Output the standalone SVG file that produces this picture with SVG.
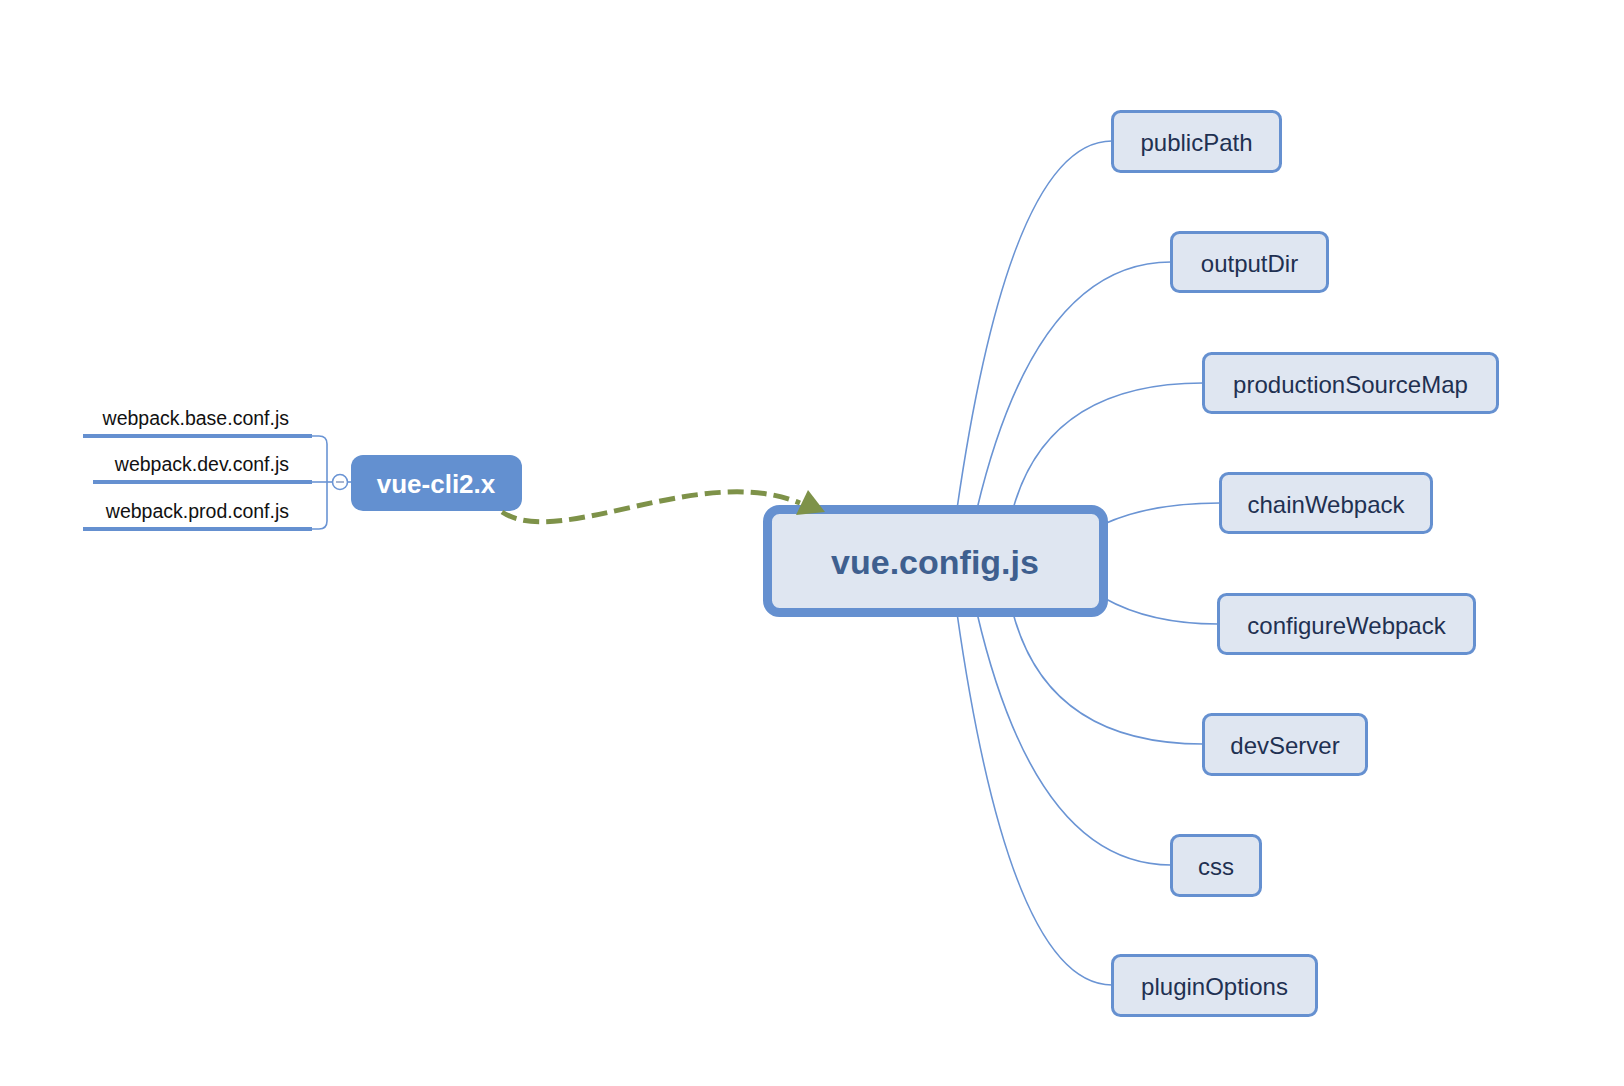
<svg xmlns="http://www.w3.org/2000/svg" width="1624" height="1086" viewBox="0 0 1624 1086">
  <style>
    .conn { fill: none; stroke: #6a94d4; stroke-width: 1.6; }
    .node rect { fill: #dfe6f1; stroke: #6590d0; stroke-width: 3; }
    .node text { font-family: "Liberation Sans", Arial, sans-serif; font-size: 24px; fill: #1f3152; text-anchor: middle; }
    .leaf text { font-family: "Liberation Sans", Arial, sans-serif; font-size: 19.5px; fill: #111111; text-anchor: end; }
    .underline { stroke: #6590d0; stroke-width: 4; }
    .rel { fill: none; stroke: #7e9249; stroke-width: 5; stroke-dasharray: 16 7; }
  </style>
  <rect x="0" y="0" width="1624" height="1086" fill="#ffffff"/>

  <g id="connectors">
    <path class="conn" d="M957,509 Q1010,141 1112,141"/>
    <path class="conn" d="M977,509 Q1036,262 1171,262"/>
    <path class="conn" d="M1013,509 Q1048,383 1203,383"/>
    <path class="conn" d="M1104,524 Q1150,503 1220,503"/>
    <path class="conn" d="M1104,598 Q1150,624 1218,624"/>
    <path class="conn" d="M1013,613 Q1048,744 1203,744"/>
    <path class="conn" d="M977,613 Q1036,865 1171,865"/>
    <path class="conn" d="M957,613 Q1010,985 1112,985"/>
    <path class="conn" d="M312,436 H319 Q327,436 327,444 V521 Q327,529 319,529 H312"/>
    <path class="conn" d="M312,482 H332.5"/>
    <path class="conn" d="M347.5,482 H352"/>
  </g>

  <g id="collapse">
    <circle cx="340" cy="482" r="7.5" fill="#ffffff" stroke="#6a94d4" stroke-width="1.6"/>
    <line x1="336" y1="482" x2="344" y2="482" stroke="#8a9cc0" stroke-width="1.5"/>
  </g>

  <g id="leaf-base" class="leaf">
    <line class="underline" x1="83" y1="436" x2="312" y2="436"/>
    <text x="289" y="425">webpack.base.conf.js</text>
  </g>
  <g id="leaf-dev" class="leaf">
    <line class="underline" x1="93" y1="482" x2="312" y2="482"/>
    <text x="289" y="471">webpack.dev.conf.js</text>
  </g>
  <g id="leaf-prod" class="leaf">
    <line class="underline" x1="83" y1="529" x2="312" y2="529"/>
    <text x="289" y="518">webpack.prod.conf.js</text>
  </g>

  <g id="vue-cli2">
    <rect x="351" y="455" width="171" height="56" rx="12" fill="#6390d0"/>
    <text x="436" y="493" font-family="Liberation Sans, Arial, sans-serif" font-size="26" font-weight="bold" fill="#ffffff" text-anchor="middle">vue-cli2.x</text>
  </g>

  <g id="vue-config">
    <rect x="767.5" y="509.5" width="336" height="103" rx="12" fill="#dfe6f1" stroke="#6590d0" stroke-width="9"/>
    <text x="935" y="574" font-family="Liberation Sans, Arial, sans-serif" font-size="34" font-weight="bold" fill="#3e5f8f" text-anchor="middle">vue.config.js</text>
  </g>

  <g id="publicPath" class="node">
    <rect x="1112.5" y="111.5" width="168" height="60" rx="8"/>
    <text x="1196.5" y="151">publicPath</text>
  </g>
  <g id="outputDir" class="node">
    <rect x="1171.5" y="232.5" width="156" height="59" rx="8"/>
    <text x="1249.5" y="271.5">outputDir</text>
  </g>
  <g id="productionSourceMap" class="node">
    <rect x="1203.5" y="353.5" width="294" height="59" rx="8"/>
    <text x="1350.5" y="392.5">productionSourceMap</text>
  </g>
  <g id="chainWebpack" class="node">
    <rect x="1220.5" y="473.5" width="211" height="59" rx="8"/>
    <text x="1326" y="512.5">chainWebpack</text>
  </g>
  <g id="configureWebpack" class="node">
    <rect x="1218.5" y="594.5" width="256" height="59" rx="8"/>
    <text x="1346.5" y="633.5">configureWebpack</text>
  </g>
  <g id="devServer" class="node">
    <rect x="1203.5" y="714.5" width="163" height="60" rx="8"/>
    <text x="1285" y="754">devServer</text>
  </g>
  <g id="css" class="node">
    <rect x="1171.5" y="835.5" width="89" height="60" rx="8"/>
    <text x="1216" y="875">css</text>
  </g>
  <g id="pluginOptions" class="node">
    <rect x="1112.5" y="955.5" width="204" height="60" rx="8"/>
    <text x="1214.5" y="995">pluginOptions</text>
  </g>

  <g id="relationship">
    <path class="rel" d="M502,512 C560,550 700,462 800,503"/>
    <polygon points="808,490 796,515 825,512" fill="#7e9249"/>
  </g>
</svg>
